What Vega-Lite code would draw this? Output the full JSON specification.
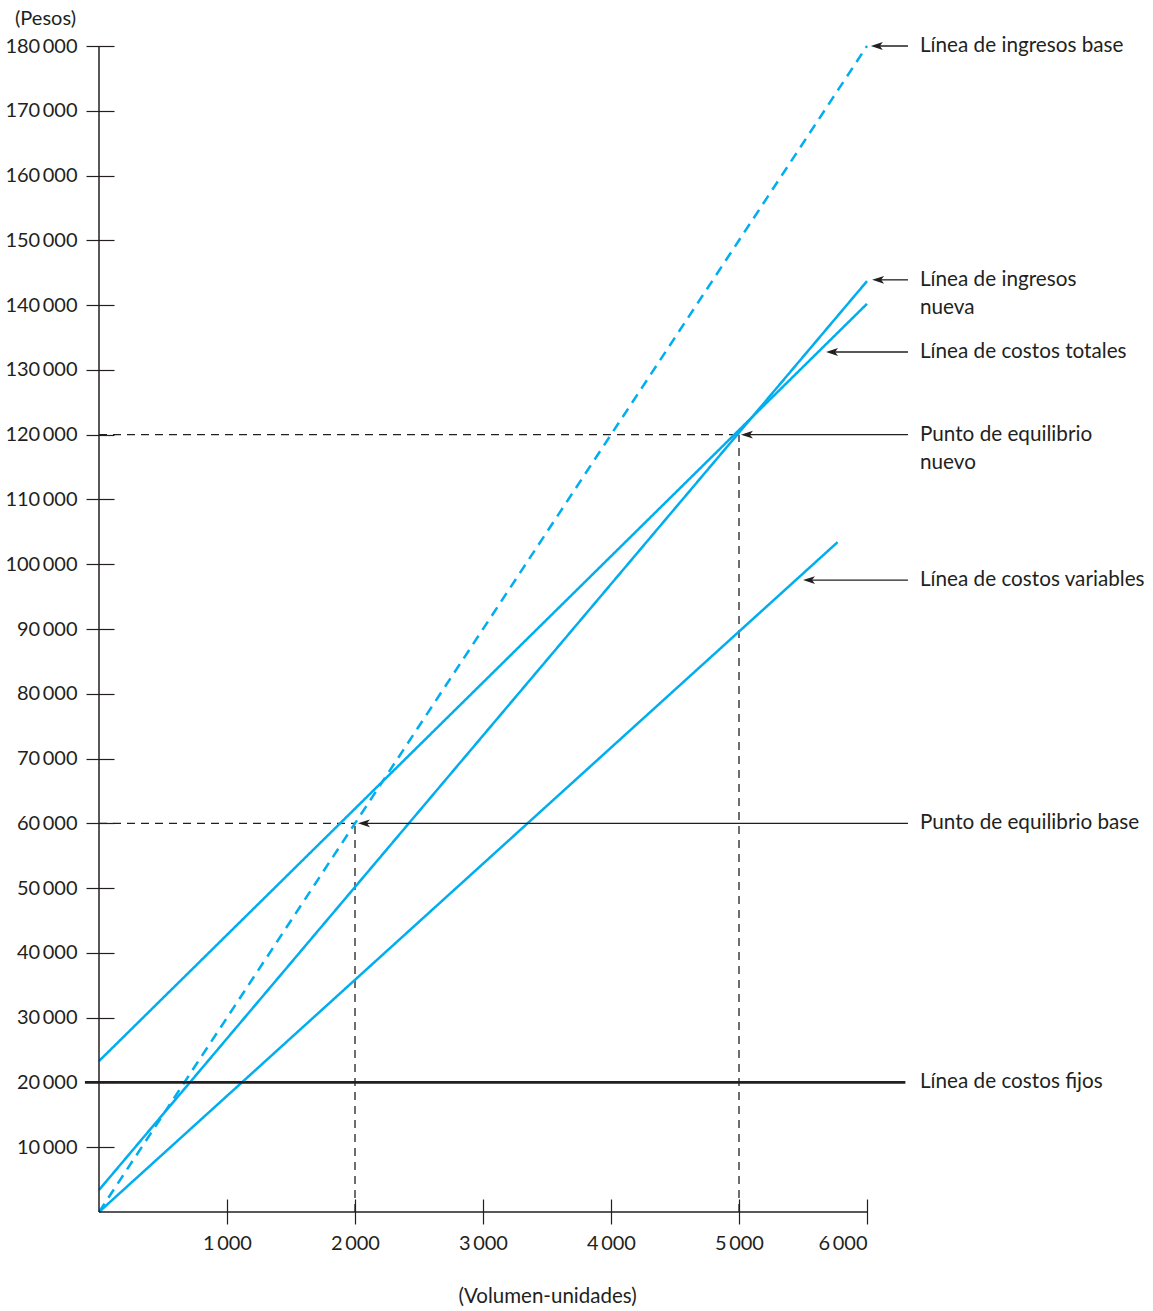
{
  "$schema": "https://vega.github.io/schema/vega-lite/v6.json",
  "width": 768,
  "height": 1166,
  "autosize": {"type": "none"},
  "padding": {"left": 99, "top": 46, "right": 286, "bottom": 99},
  "background": "white",
  "config": {
    "view": {"stroke": null},
    "font": "Lato",
    "axis": {"grid": false}
  },
  "encoding": {
    "x": {
      "field": "x", "type": "quantitative",
      "scale": {"domain": [0, 6000], "nice": false, "zero": false},
      "axis": {
        "title": "(Volumen-unidades)",
        "values": [1000, 2000, 3000, 4000, 5000, 6000],
        "domain": false,
        "offset": -13,
        "tickSize": 25,
        "tickColor": "#231f20",
        "tickWidth": 1.2,
        "labelPadding": 9,
        "labelFont": "Lato",
        "labelFontSize": 20,
        "labelColor": "#231f20",
        "labelExpr": "replace(format(datum.value, ','), ',', '\u2009')",
        "titleFont": "Lato",
        "titleFontSize": 20.5,
        "titleFontWeight": "normal",
        "titleColor": "#231f20",
        "titleAngle": 0,
        "titleX": 448,
        "titleY": 97,
        "titleAlign": "center",
        "titleBaseline": "middle"
      }
    },
    "y": {
      "field": "y", "type": "quantitative",
      "scale": {"domain": [0, 180000], "nice": false, "zero": false},
      "axis": {
        "title": "(Pesos)",
        "values": [10000, 20000, 30000, 40000, 50000, 60000, 70000, 80000, 90000, 100000, 110000, 120000, 130000, 140000, 150000, 160000, 170000, 180000],
        "domain": false,
        "offset": -15,
        "tickSize": 28,
        "tickColor": "#231f20",
        "tickWidth": 1.2,
        "labelPadding": 9,
        "labelFont": "Lato",
        "labelFontSize": 20,
        "labelColor": "#231f20",
        "labelExpr": "replace(format(datum.value, ','), ',', '\u2009')",
        "titleFont": "Lato",
        "titleFontSize": 20,
        "titleFontWeight": "normal",
        "titleColor": "#231f20",
        "titleAngle": 0,
        "titleX": -69,
        "titleY": -28,
        "titleAlign": "center",
        "titleBaseline": "middle"
      }
    }
  },
  "layer": [
    {
      "data": {"values": [
        {"x": 0, "x2": 2000, "y": 60000, "y2": 60000},
        {"x": 2000, "x2": 2000, "y": 0, "y2": 60000},
        {"x": 0, "x2": 5000, "y": 120000, "y2": 120000},
        {"x": 5000, "x2": 5000, "y": 0, "y2": 120000}
      ]},
      "mark": {"type": "rule", "color": "#231f20", "strokeWidth": 1.3, "strokeDash": [8, 6]},
      "encoding": {"x2": {"field": "x2"}, "y2": {"field": "y2"}}
    },
    {
      "data": {"values": [
        {"s": "base", "x": 0, "y": 0},
        {"s": "base", "x": 6000, "y": 180000},
        {"s": "nueva", "x": 0, "y": 3400},
        {"s": "nueva", "x": 6000, "y": 143700},
        {"s": "totales", "x": 0, "y": 23300},
        {"s": "totales", "x": 6000, "y": 140200},
        {"s": "variables", "x": 0, "y": 0},
        {"s": "variables", "x": 5770, "y": 103400}
      ]},
      "mark": {"type": "line", "color": "#00aeef", "strokeWidth": 2.5},
      "encoding": {
        "detail": {"field": "s", "type": "nominal"},
        "strokeDash": {
          "field": "s", "type": "nominal",
          "scale": {"domain": ["base", "nueva", "totales", "variables"], "range": [[10, 7], [1, 0], [1, 0], [1, 0]]},
          "legend": null
        }
      }
    },
    {
      "data": {"values": [
        {"x": -110, "x2": 6300, "y": 20000, "y2": 20000}
      ]},
      "mark": {"type": "rule", "color": "#231f20", "strokeWidth": 2.8},
      "encoding": {"x2": {"field": "x2"}, "y2": {"field": "y2"}}
    },
    {
      "data": {"values": [
        {"x": 0, "x2": 6000, "y": 0, "y2": 0},
        {"x": 0, "x2": 0, "y": 0, "y2": 180000}
      ]},
      "mark": {"type": "rule", "color": "#231f20", "strokeWidth": 1.5},
      "encoding": {"x2": {"field": "x2"}, "y2": {"field": "y2"}}
    },
    {
      "data": {"values": [
        {"x": 6070, "x2": 6320, "y": 180000},
        {"x": 6080, "x2": 6320, "y": 143900},
        {"x": 5720, "x2": 6320, "y": 132760},
        {"x": 5055, "x2": 6320, "y": 120000},
        {"x": 5540, "x2": 6320, "y": 97560},
        {"x": 2063, "x2": 6320, "y": 60000}
      ]},
      "mark": {"type": "rule", "color": "#231f20", "strokeWidth": 1.3},
      "encoding": {"x2": {"field": "x2"}}
    },
    {
      "data": {"values": [
        {"x": 6030, "y": 180000},
        {"x": 6040, "y": 143900},
        {"x": 5680, "y": 132760},
        {"x": 5015, "y": 120000},
        {"x": 5500, "y": 97560},
        {"x": 2023, "y": 60000}
      ]},
      "mark": {"type": "point", "shape": "M0,0L2,-0.65L1.5,0L2,0.65Z", "filled": true, "color": "#231f20", "opacity": 1, "size": 144},
      "encoding": {}
    },
    {
      "data": {"values": [
        {"x": 6414, "y": 180000, "t": "Línea de ingresos base"},
        {"x": 6414, "y": 143900, "t": "Línea de ingresos\nnueva"},
        {"x": 6414, "y": 132760, "t": "Línea de costos totales"},
        {"x": 6414, "y": 120000, "t": "Punto de equilibrio\nnuevo"},
        {"x": 6414, "y": 97560, "t": "Línea de costos variables"},
        {"x": 6414, "y": 60000, "t": "Punto de equilibrio base"},
        {"x": 6414, "y": 20000, "t": "Línea de costos fijos"}
      ]},
      "mark": {"type": "text", "align": "left", "baseline": "top", "dy": -10, "font": "Lato", "fontSize": 20.7, "color": "#231f20", "lineBreak": "\n", "lineHeight": 28},
      "encoding": {"text": {"field": "t", "type": "nominal"}}
    }
  ]
}
